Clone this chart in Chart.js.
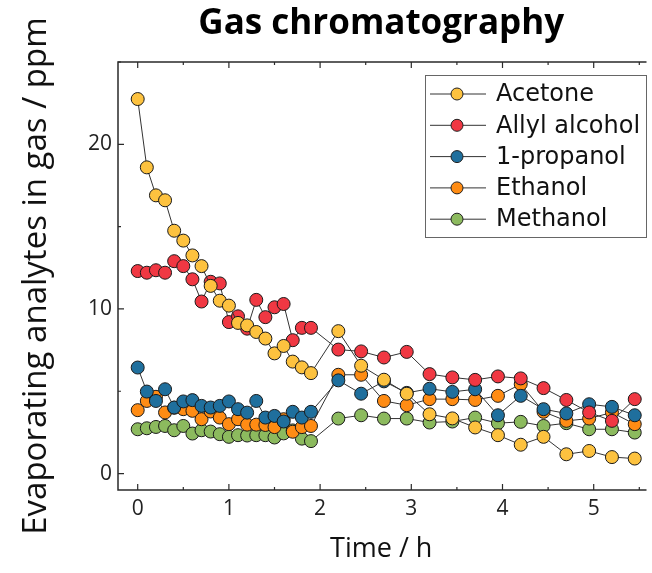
<!DOCTYPE html>
<html>
<head>
<meta charset="utf-8">
<title>Gas chromatography</title>
<script src="https://cdn.jsdelivr.net/npm/chart.js@4.4.1/dist/chart.umd.min.js"></script>
<style>
  html, body { margin: 0; padding: 0; background: #fff; overflow: hidden; }
  #chart { display: block; }
</style>
</head>
<body>
<canvas id="chart" width="652" height="573"></canvas>
<script>
// sampling times (h)
const times = [0, 0.1, 0.2, 0.3, 0.4, 0.5, 0.6, 0.7, 0.8, 0.9, 1.0, 1.1, 1.2, 1.3, 1.4, 1.5, 1.6, 1.7, 1.8, 1.9,
  2.2, 2.45, 2.7, 2.95, 3.2, 3.45, 3.7, 3.95, 4.2, 4.45, 4.7, 4.95, 5.2, 5.45];

// concentrations in the gas phase (ppm)
const acetone = [22.75, 18.6, 16.9, 16.6, 14.75, 14.15, 13.25, 12.6, 11.4, 10.5, 10.2, 9.15, 9.0, 8.6, 8.2, 7.3, 7.75, 6.8, 6.45, 6.1,
  8.65, 6.55, 5.7, 4.85, 3.6, 3.35, 2.8, 2.33, 1.75, 2.23, 1.17, 1.37, 1.0, 0.91];
const allylAlcohol = [12.3, 12.2, 12.35, 12.2, 12.9, 12.6, 11.8, 10.45, 11.65, 11.55, 9.2, 9.55, 8.8, 10.55, 9.5, 10.1, 10.3, 8.1, 8.85, 8.85,
  7.53, 7.42, 7.05, 7.39, 6.04, 5.84, 5.69, 5.9, 5.78, 5.19, 4.47, 3.71, 3.2, 4.52];
const propanol = [6.44, 4.98, 4.41, 5.12, 4.01, 4.38, 4.46, 4.11, 4.01, 4.11, 4.38, 3.91, 3.7, 4.41, 3.4, 3.5, 3.16, 3.75, 3.4, 3.75,
  5.66, 4.85, 5.6, 4.9, 5.15, 4.96, 5.12, 3.54, 4.72, 3.91, 3.65, 4.21, 4.05, 3.54];
const ethanol = [3.85, 4.41, 4.66, 3.71, 4.0, 3.91, 3.81, 3.3, 3.77, 3.4, 3.0, 3.3, 2.97, 2.97, 2.95, 2.82, 3.3, 2.54, 2.82, 2.89,
  6.0, 6.0, 4.41, 4.15, 4.52, 4.52, 4.47, 4.72, 5.43, 3.75, 3.2, 3.34, 3.71, 3.0];
const methanol = [2.69, 2.75, 2.83, 2.89, 2.63, 2.89, 2.43, 2.63, 2.55, 2.39, 2.23, 2.33, 2.31, 2.33, 2.33, 2.19, 2.44, 2.62, 2.12, 1.97,
  3.34, 3.54, 3.34, 3.34, 3.1, 3.16, 3.4, 3.06, 3.14, 2.89, 3.06, 2.69, 2.69, 2.49];

const seriesNames = ["Acetone", "Allyl alcohol", "1-propanol", "Ethanol", "Methanol"];
const seriesValues = [acetone, allylAlcohol, propanol, ethanol, methanol];
const seriesColors = ["#FDC23F", "#F03843", "#1F6F9D", "#FF8C14", "#8CBA5E"];

// tick values: labelled majors and unlabelled minors
const xMajorTicks = [0, 1, 2, 3, 4, 5];
const xMinorTicks = [0.5, 1.5, 2.5, 3.5, 4.5, 5.5];
const yMajorTicks = [0, 10, 20];
const yMinorTicks = [5, 15, 25];

const sansFont = "'Open Sans', 'DejaVu Sans', sans-serif";

// box frame with inward tick marks (left, top, bottom)
const frameTicks = {
  id: "frameTicks",
  afterDraw(chart) {
    const { ctx, chartArea: a, scales } = chart;
    ctx.save();
    ctx.strokeStyle = "#2a2a2a";
    ctx.lineWidth = 1.5;
    ctx.beginPath();
    ctx.moveTo(a.right + 2, a.top);
    ctx.lineTo(a.left, a.top);
    ctx.lineTo(a.left, a.bottom);
    ctx.lineTo(a.right + 2, a.bottom);
    ctx.stroke();

    ctx.lineWidth = 1.2;
    ctx.beginPath();
    const xMark = (v, len) => {
      const px = scales.x.getPixelForValue(v);
      ctx.moveTo(px, a.bottom);
      ctx.lineTo(px, a.bottom - len);
      ctx.moveTo(px, a.top);
      ctx.lineTo(px, a.top + len);
    };
    const yMark = (v, len) => {
      const py = scales.y.getPixelForValue(v);
      ctx.moveTo(a.left, py);
      ctx.lineTo(a.left + len, py);
    };
    xMajorTicks.forEach((v) => xMark(v, 6));
    xMinorTicks.forEach((v) => xMark(v, 3));
    yMajorTicks.forEach((v) => yMark(v, 6));
    yMinorTicks.forEach((v) => yMark(v, 3));
    ctx.stroke();
    ctx.restore();
  },
};

// legend in a framed box, sample line with marker
const boxLegend = {
  id: "boxLegend",
  afterDraw(chart, args, opts) {
    const { ctx } = chart;
    ctx.save();
    ctx.fillStyle = "#fff";
    ctx.fillRect(opts.left, opts.top, opts.width, opts.height);
    ctx.strokeStyle = "#666";
    ctx.lineWidth = 1;
    ctx.strokeRect(opts.left + 0.5, opts.top + 0.5, opts.width, opts.height);
    ctx.font = opts.font;
    ctx.textBaseline = "middle";
    chart.data.datasets.forEach((ds, i) => {
      const y = opts.top + opts.firstRow + i * opts.rowGap;
      ctx.strokeStyle = "#333";
      ctx.lineWidth = 1;
      ctx.beginPath();
      ctx.moveTo(opts.left + 5, y);
      ctx.lineTo(opts.left + 61, y);
      ctx.stroke();
      ctx.beginPath();
      ctx.arc(opts.left + 32, y, 6, 0, Math.PI * 2);
      ctx.fillStyle = ds.backgroundColor;
      ctx.fill();
      ctx.strokeStyle = "#222";
      ctx.stroke();
      ctx.fillStyle = "#111";
      ctx.fillText(ds.label, opts.left + 71, y + 1);
    });
    ctx.restore();
  },
};

const datasets = seriesNames.map((name, i) => ({
  label: name,
  data: times.map((t, j) => ({ x: t, y: seriesValues[i][j] })),
  borderColor: "#333",
  borderWidth: 1,
  backgroundColor: seriesColors[i],
  pointBackgroundColor: seriesColors[i],
  pointBorderColor: "#1a1a1a",
  pointBorderWidth: 1,
  pointRadius: 6.5,
  tension: 0,
}));

new Chart(document.getElementById("chart"), {
  type: "line",
  data: { datasets },
  plugins: [frameTicks, boxLegend],
  options: {
    responsive: false,
    animation: false,
    devicePixelRatio: 1,
    layout: { padding: 0 },
    plugins: {
      legend: { display: false },
      tooltip: { enabled: false },
      title: {
        display: true,
        fullSize: false,
        text: "Gas chromatography",
        color: "#000",
        font: { family: sansFont, size: 35, weight: "bold" },
        padding: { top: 3, bottom: 17 },
      },
      boxLegend: {
        left: 425, top: 75, width: 221, height: 162,
        firstRow: 19, rowGap: 31.3,
        font: "24px 'DejaVu Sans', sans-serif",
      },
    },
    scales: {
      x: {
        type: "linear",
        min: -0.216,
        max: 5.557,
        grid: { display: false, drawTicks: false },
        border: { display: false },
        afterBuildTicks: (scale) => {
          scale.ticks = xMajorTicks.map((v) => ({ value: v }));
        },
        afterFit: (scale) => { scale.height = 83; },
        ticks: {
          color: "#222",
          padding: 6,
          maxRotation: 0,
          font: { family: sansFont, size: 21 },
        },
        title: {
          display: true,
          text: "Time / h",
          color: "#111",
          font: { family: sansFont, size: 27 },
          padding: { top: 0, bottom: 7 },
        },
      },
      y: {
        type: "linear",
        min: -1,
        max: 25,
        grid: { display: false, drawTicks: false },
        border: { display: false },
        afterBuildTicks: (scale) => {
          scale.ticks = yMajorTicks.map((v) => ({ value: v }));
        },
        afterFit: (scale) => { scale.width = 118; },
        ticks: {
          color: "#222",
          padding: 6,
          font: { family: sansFont, size: 21 },
        },
        title: {
          display: true,
          text: "Evaporating analytes in gas / ppm",
          color: "#111",
          font: { family: sansFont, size: 33 },
          padding: { top: 17, bottom: 0 },
        },
      },
    },
  },
});
</script>
</body>
</html>
